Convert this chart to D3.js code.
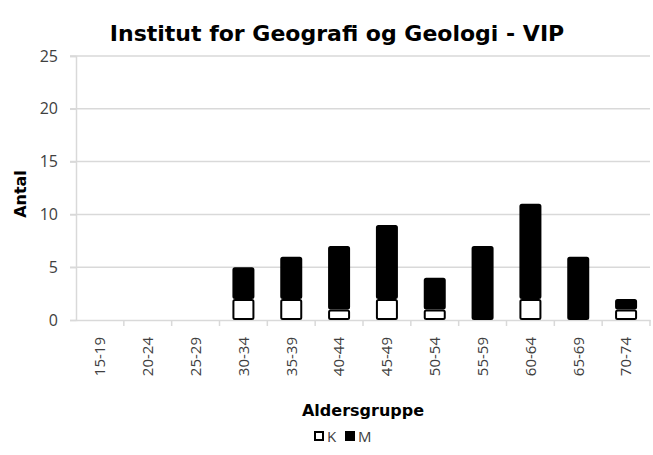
<!DOCTYPE html>
<html>
<head>
<meta charset="utf-8">
<script src="https://cdn.jsdelivr.net/npm/d3@7"></script>
<style>
  body { margin: 0; background: #fff; }
  svg { font-family: "Open Sans", "DejaVu Sans", sans-serif; }
  .bold { font-family: "DejaVu Sans", sans-serif; font-weight: bold; }
</style>
</head>
<body>
<svg id="chart" width="653" height="455"></svg>
<script>
const categories = ['15-19', '20-24', '25-29', '30-34', '35-39', '40-44', '45-49', '50-54', '55-59', '60-64', '65-69', '70-74']
const kValues = [0, 0, 0, 2, 2, 1, 2, 1, 0, 2, 0, 1]
const mValues = [0, 0, 0, 3, 4, 6, 7, 3, 7, 9, 6, 1]
const yTicks = [0, 5, 10, 15, 20, 25]
const seriesNames = ['K', 'M']

const svg = d3.select('#chart')
const margins = {left: 76, top: 56, right: 3, bottom: 135}
const w = 653 - margins.left - margins.right
const h = 455 - margins.top - margins.bottom
const grid = '#d9d9d9'
const textCol = '#404040'

const g = svg.append('g')
  .attr('transform', `translate(${margins.left}, ${margins.top})`)

const x = d3.scaleBand().domain(categories).range([0, w]).paddingInner(0.54).paddingOuter(0.27)
const xb = d3.scaleBand().domain(categories).range([0, w])
const y = d3.scaleLinear().domain([0, 25]).range([h, 0])

// gridlines
g.append('g')
  .selectAll('line')
  .data(yTicks.slice(1))
  .enter()
  .append('line')
  .attr('x1', -6).attr('x2', w)
  .attr('y1', (d) => y(d)).attr('y2', (d) => y(d))
  .attr('stroke', grid)
  .attr('stroke-width', 1.5)

// y axis
const yAxis = g.append('g')
  .call(d3.axisLeft(y).tickValues(yTicks).tickSize(6).tickPadding(12))
yAxis.select('.domain').attr('stroke', grid).attr('stroke-width', 1.5)
yAxis.selectAll('.tick line').attr('stroke', grid).attr('stroke-width', 1.5)
yAxis.selectAll('text')
  .attr('fill', textCol)
  .style('font-family', '"Open Sans", sans-serif')
  .style('font-size', '16px')

// x axis, ticks sit between the categories
const xAxis = g.append('g')
  .attr('transform', `translate(0, ${h})`)
  .call(d3.axisBottom(xb).tickSize(0).tickPadding(0))
xAxis.select('.domain').attr('stroke', grid).attr('stroke-width', 1.5)
xAxis.selectAll('.tick text')
  .attr('transform', 'rotate(-90)')
  .attr('text-anchor', 'end')
  .attr('x', -17)
  .attr('y', 0)
  .attr('dy', '0.35em')
  .attr('fill', textCol)
  .style('font-family', '"Open Sans", sans-serif')
  .style('font-size', '15px')
xAxis.append('g')
  .selectAll('line')
  .data(categories.slice(1).concat(['end']))
  .enter()
  .append('line')
  .attr('x1', (d) => d === 'end' ? w : xb(d))
  .attr('x2', (d) => d === 'end' ? w : xb(d))
  .attr('y1', 0).attr('y2', 6)
  .attr('stroke', grid)
  .attr('stroke-width', 1.5)

// bars
const stackData = categories.map((c, i) => ({cat: c, K: kValues[i], M: mValues[i]}))
const stacked = d3.stack().keys(seriesNames)(stackData)
const fills = {K: '#fff', M: '#000'}

g.append('g')
  .selectAll('g')
  .data(stacked)
  .enter()
  .append('g')
  .attr('fill', (s) => fills[s.key])
  .selectAll('rect')
  .data((s) => s.filter((d) => d[1] - d[0] > 0))
  .enter()
  .append('rect')
  .attr('x', (d) => x(d.data.cat) + 1)
  .attr('y', (d) => y(d[1]) + 1)
  .attr('width', x.bandwidth() - 2)
  .attr('height', (d) => y(d[0]) - y(d[1]) - 2)
  .attr('rx', 1.5)
  .attr('stroke', '#000')
  .attr('stroke-width', 2)

// title
svg.append('text')
  .attr('class', 'bold')
  .attr('x', 337)
  .attr('y', 41)
  .attr('text-anchor', 'middle')
  .style('font-size', '22px')
  .text('Institut for Geografi og Geologi - VIP')

// axis titles
svg.append('text')
  .attr('class', 'bold')
  .attr('x', 363)
  .attr('y', 416)
  .attr('text-anchor', 'middle')
  .style('font-size', '16px')
  .text('Aldersgruppe')

svg.append('text')
  .attr('class', 'bold')
  .attr('transform', 'translate(26, 194) rotate(-90)')
  .attr('text-anchor', 'middle')
  .style('font-size', '16px')
  .text('Antal')

// legend
const legend = svg.append('g').attr('transform', 'translate(314, 442)')
const items = legend.selectAll('g')
  .data(seriesNames)
  .enter()
  .append('g')
  .attr('transform', (d, i) => `translate(${i * 31}, 0)`)
items.append('rect')
  .attr('x', 1).attr('y', -10)
  .attr('width', 8).attr('height', 8)
  .attr('fill', (d) => fills[d])
  .attr('stroke', '#000')
  .attr('stroke-width', 2)
items.append('text')
  .attr('x', 13)
  .attr('y', 0)
  .attr('fill', textCol)
  .style('font-size', '15px')
  .text((d) => d)
</script>
</body>
</html>
